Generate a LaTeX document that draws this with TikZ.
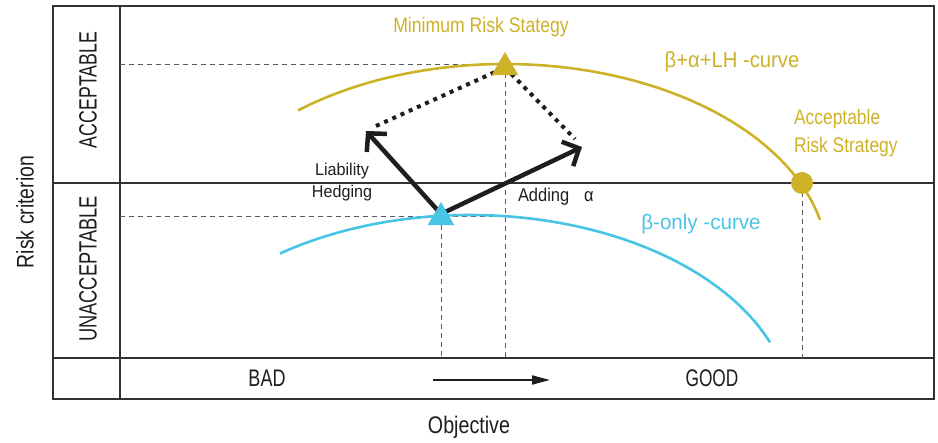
\documentclass[tikz,border=0pt]{standalone}
\usepackage{fontspec}
\usepackage{graphicx}
\setmainfont{Liberation Sans}
\usetikzlibrary{arrows.meta,shapes.geometric}
\definecolor{gold}{RGB}{205,178,40}
\definecolor{skyc}{RGB}{72,196,228}
\definecolor{ink}{RGB}{30,30,30}
\definecolor{frame}{RGB}{50,50,50}
\definecolor{guide}{RGB}{90,90,90}
\newcommand{\sqz}[3]{\scalebox{#2}[1]{\fontsize{#1}{#1}\selectfont #3}}
\newcommand{\sqzml}[4]{\scalebox{#2}[1]{\fontsize{#1}{#3}\selectfont #4}}
\begin{document}
\begin{tikzpicture}[x=1pt,y=-1pt,
  framel/.style={draw=frame,line width=1.4pt},
  guideline/.style={draw=guide,line width=0.9pt,dash pattern=on 5pt off 4pt},
  curvey/.style={draw=gold,line width=2.6pt},
  curveb/.style={draw=skyc,line width=2.6pt},
  bigarrow/.style={draw=ink,line width=4.5pt,-{Straight Barb[length=13pt,width=27pt,line width=4.5pt]}},
  dotline/.style={draw=ink,line width=4pt,dash pattern=on 4pt off 5pt},
  lbl/.style={inner sep=0pt,outer sep=0pt},
  tri/.style={regular polygon,regular polygon sides=3,minimum size=31pt,inner sep=0pt}]
\useasboundingbox (0,0) rectangle (938,443);
% frame
\draw[framel] (53,6) rectangle (934,399);
\coordinate (vt) at (120,6); \coordinate (vb) at (120,399);
\coordinate (ml) at (53,183); \coordinate (mr) at (934,183);
\coordinate (bl) at (53,358); \coordinate (br) at (934,358);
\draw[framel] (vt) -- (vb);
\draw[framel] (ml) -- (mr);
\draw[framel] (bl) -- (br);
% guide coordinates
\coordinate (gy0) at (120,64); \coordinate (gy1) at (505,64); \coordinate (gy2) at (505,358);
\coordinate (gb0) at (120,216); \coordinate (gb1) at (505,216);
\coordinate (gc0) at (441,216); \coordinate (gc1) at (441,358);
\coordinate (gr0) at (802,183); \coordinate (gr1) at (802,358);
\draw[guideline] (gy0) -- (gy1);
\draw[guideline] (gy1) -- (gy2);
\draw[guideline] (gb0) -- (gb1);
\draw[guideline] (gc0) -- (gc1);
\draw[guideline] (gr0) -- (gr1);
% curves
\draw[curvey] plot[domain=298:820,samples=150,smooth] (\x,{264-200*sqrt(1-((\x-505)/323)^2)});
\draw[curveb] plot[domain=280:770,samples=150,smooth] (\x,{415-200*sqrt(1-((\x-470)/322)^2)});
% strategies
\coordinate (ypk) at (505,67.5);
\coordinate (bpk) at (441,217.5);
\coordinate (lhtip) at (366,131);
\coordinate (adtip) at (582,147);
\coordinate (dotl) at (376,126);
\coordinate (dotr) at (575,139);
\coordinate (arrs) at (441,214);
\draw[dotline] (dotl) -- (ypk);
\draw[dotline] (ypk) -- (dotr);
\draw[bigarrow] (arrs) -- (lhtip);
\draw[bigarrow] (arrs) -- (adtip);
\node[tri,fill=gold] (ytri) at (ypk) {};
\node[tri,fill=skyc] (btri) at (bpk) {};
\node[circle,fill=gold,minimum size=22pt,inner sep=0pt] (ycirc) at (802,183) {};
% bottom arrow
\coordinate (oa0) at (433,380); \coordinate (oa1) at (550,380);
\draw[ink,line width=2pt,-{Triangle[length=18pt,width=9pt]}] (oa0) -- (oa1);
% labels
\node[lbl,text=gold] (minrisk) at (481,27) {\sqz{21pt}{0.84}{Minimum Risk Stategy}};
\node[lbl,text=gold] (ylabel) at (732,62) {\sqz{22pt}{0.92}{β+α+LH -curve}};
\node[lbl,text=gold,anchor=west] (accrisk) at (794,133) {\sqzml{21pt}{0.83}{28pt}{\begin{tabular}{@{}l@{}}Acceptable\\Risk Strategy\end{tabular}}};
\node[lbl,text=skyc] (blabel) at (701,224) {\sqz{21pt}{0.98}{β-only -curve}};
\node[lbl,text=ink] (lh) at (342,182) {\sqzml{17pt}{0.95}{22pt}{\begin{tabular}{@{}c@{}}Liability\\Hedging\end{tabular}}};
\node[lbl,text=ink,anchor=west] (adding) at (518,197) {\sqz{18.5pt}{0.89}{Adding\hspace{0.9em}α}};
\node[lbl,text=ink,rotate=90] (acc) at (88,90) {\sqz{25pt}{0.71}{ACCEPTABLE}};
\node[lbl,text=ink,rotate=90] (unacc) at (88,269) {\sqz{25pt}{0.73}{UNACCEPTABLE}};
\node[lbl,text=ink,rotate=90] (riskc) at (25,212) {\sqz{24pt}{0.81}{Risk criterion}};
\node[lbl,text=ink] (bad) at (267,378) {\sqz{24pt}{0.75}{BAD}};
\node[lbl,text=ink] (good) at (712,378) {\sqz{24pt}{0.72}{GOOD}};
\node[lbl,text=ink] (obj) at (469,427) {\sqz{24pt}{0.82}{Objective}};
\end{tikzpicture}
\end{document}
